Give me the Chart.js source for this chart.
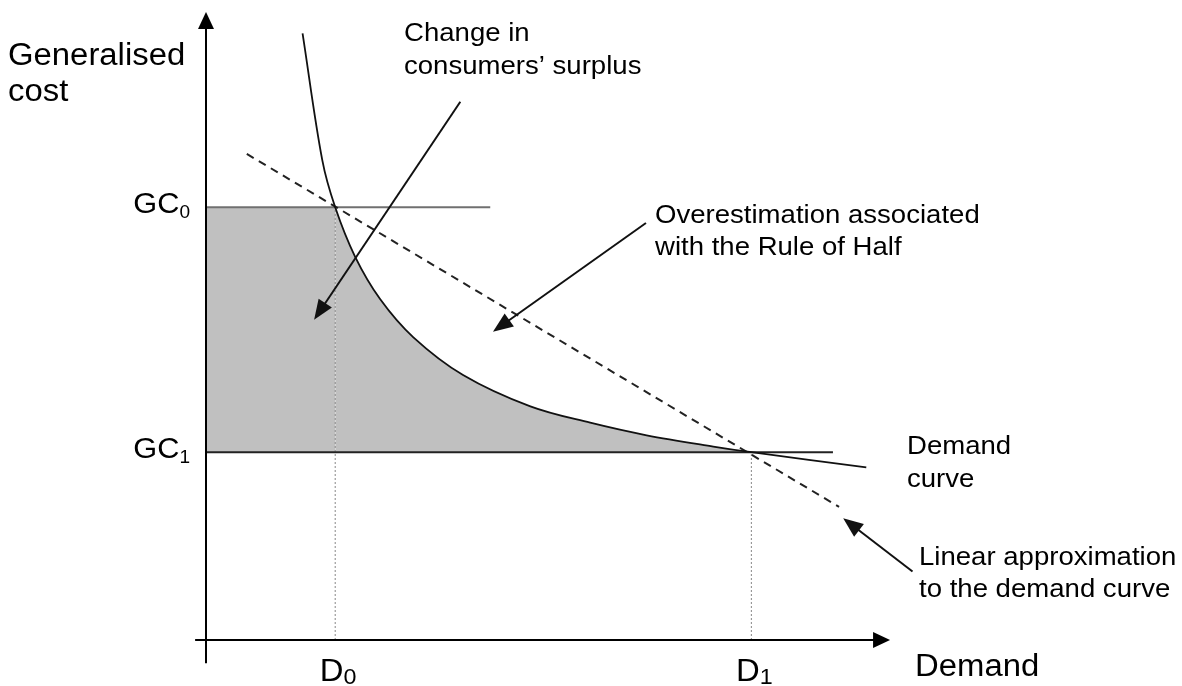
<!DOCTYPE html>
<html>
<head>
<meta charset="utf-8">
<script src="https://cdn.jsdelivr.net/npm/chart.js@4.4.1/dist/chart.umd.min.js"></script>
<style>
    html, body { margin: 0; padding: 0; background: #fff; }
    #wrap { width: 1182px; height: 686px; position: relative; }
</style>
</head>
<body>
<div id="wrap"><canvas id="diagram"></canvas></div>
<script>
// Demand curve (demand, generalised cost)
const curveX = [14.2, 17.1, 19.0, 21.9, 25.6, 30.5, 37.8, 47.7, 56.5, 64.8, 74.6, 80.2, 97.1];
const curveY = [96.6, 76.4, 68.9, 61.1, 54.3, 48.2, 42.2, 37.2, 34.6, 32.6, 30.8, 29.9, 27.5];

// Linear approximation (dashed)
const linearX = [6.0, 93.1];
const linearY = [77.4, 21.2];

// Generalised cost levels GC0, GC1 and how far their lines run
const costLevels = [68.9, 29.9];
const costSubs = ['0', '1'];
const costLineEnds = [41.8, 92.2];

// Demand levels D0, D1
const demandLevels = [19.0, 80.2];
const demandSubs = ['0', '1'];

// Annotation arrows, tail -> head
const arrowTailX = [37.4, 64.7, 103.9];
const arrowTailY = [85.7, 66.4, 10.9];
const arrowHeadX = [15.9, 42.2, 93.7];
const arrowHeadY = [51.0, 49.1, 19.4];

const FONT = '"Liberation Sans", Arial, sans-serif';
const SHADE = '#c0c0c0';
const STRETCH = 1.06; // the original lettering is a bit wide
const TENSION = 0.35;

function pts(xs, ys) {
    return xs.map((x, i) => ({ x: x, y: ys[i] }));
}

// slice of the curve between D0 and D1, used for the shaded area
const i0 = curveX.indexOf(demandLevels[0]);
const i1 = curveX.indexOf(demandLevels[1]);
const shadeX = curveX.slice(i0, i1 + 1);
const shadeY = curveY.slice(i0, i1 + 1);

function arrowHead(ctx, x1, y1, x2, y2, len, half) {
    const a = Math.atan2(y2 - y1, x2 - x1);
    ctx.beginPath();
    ctx.moveTo(x2, y2);
    ctx.lineTo(x2 - len * Math.cos(a) + half * Math.sin(a), y2 - len * Math.sin(a) - half * Math.cos(a));
    ctx.lineTo(x2 - len * Math.cos(a) - half * Math.sin(a), y2 - len * Math.sin(a) + half * Math.cos(a));
    ctx.closePath();
    ctx.fill();
}

function text(ctx, t, x, y, size) {
    ctx.save();
    ctx.font = size + 'px ' + FONT;
    ctx.translate(x, y);
    ctx.scale(STRETCH, 1);
    ctx.fillText(t, 0, 0);
    ctx.restore();
}

function width(ctx, t, size) {
    ctx.font = size + 'px ' + FONT;
    return ctx.measureText(t).width * STRETCH;
}

function subLabel(ctx, main, sub, x, y, size, subSize, subDrop, align) {
    const w1 = width(ctx, main, size);
    const w2 = width(ctx, sub, subSize);
    let left = x;
    if (align === 'right') left = x - w1 - w2;
    if (align === 'center') left = x - (w1 + w2) / 2;
    text(ctx, main, left, y, size);
    text(ctx, sub, left + w1, y + subDrop, subSize);
}

const diagramPlugin = {
    id: 'diagram',
    afterDraw(chart) {
        const ctx = chart.ctx;
        const sx = chart.scales.x, sy = chart.scales.y;
        const px = v => sx.getPixelForValue(v);
        const py = v => sy.getPixelForValue(v);

        ctx.save();
        ctx.strokeStyle = '#000';
        ctx.fillStyle = '#000';
        ctx.lineWidth = 2;

        // axes
        ctx.beginPath();
        ctx.moveTo(px(0), py(-3.7));
        ctx.lineTo(px(0), py(100) + 10);
        ctx.moveTo(px(-1.6), py(0));
        ctx.lineTo(px(100.6) - 10, py(0));
        ctx.stroke();
        arrowHead(ctx, px(0), py(50), px(0), py(100), 17, 8);
        arrowHead(ctx, px(50), py(0), px(100.6), py(0), 17, 8);

        // annotation arrows
        ctx.strokeStyle = '#111';
        ctx.fillStyle = '#111';
        for (let i = 0; i < arrowTailX.length; i++) {
            const x1 = px(arrowTailX[i]), y1 = py(arrowTailY[i]);
            const x2 = px(arrowHeadX[i]), y2 = py(arrowHeadY[i]);
            const a = Math.atan2(y2 - y1, x2 - x1);
            ctx.beginPath();
            ctx.moveTo(x1, y1);
            ctx.lineTo(x2 - 12 * Math.cos(a), y2 - 12 * Math.sin(a));
            ctx.stroke();
            arrowHead(ctx, x1, y1, x2, y2, 20, 8);
        }

        // text
        ctx.fillStyle = '#000';
        ctx.textBaseline = 'alphabetic';
        ctx.textAlign = 'left';
        text(ctx, 'Generalised', 8, 65, 31);
        text(ctx, 'cost', 8, 101, 31);
        text(ctx, 'Demand', 915, 676, 31);

        text(ctx, 'Change in', 404, 41, 26);
        text(ctx, 'consumers\u2019 surplus', 404, 74, 26);
        text(ctx, 'Overestimation associated', 655, 223, 26);
        text(ctx, 'with the Rule of Half', 655, 255, 26);
        text(ctx, 'Demand', 907, 454, 26);
        text(ctx, 'curve', 907, 487, 26);
        text(ctx, 'Linear approximation', 919, 565, 26);
        text(ctx, 'to the demand curve', 919, 597, 26);

        costLevels.forEach((v, i) => {
            subLabel(ctx, 'GC', costSubs[i], 190, py(v) + 6, 29, 18, 5, 'right');
        });
        demandLevels.forEach((v, i) => {
            subLabel(ctx, 'D', demandSubs[i], px(v) + 3, 681, 31, 22, 3, 'center');
        });
        ctx.restore();
    }
};

const line = (data, color, w, extra) => Object.assign({
    data: data,
    showLine: true,
    pointRadius: 0,
    borderColor: color,
    borderWidth: w,
    fill: false,
    order: 1
}, extra || {});

new Chart(document.getElementById('diagram'), {
    type: 'scatter',
    data: {
        datasets: [
            line(pts(curveX, curveY), '#111', 1.8, { tension: TENSION }),
            line(pts(linearX, linearY), '#222', 2, { borderDash: [8, 6] }),
            line([{ x: 0, y: costLevels[0] }, { x: costLineEnds[0], y: costLevels[0] }], '#707070', 2),
            line([{ x: 0, y: costLevels[1] }, { x: costLineEnds[1], y: costLevels[1] }], '#222', 2),
            line([{ x: demandLevels[0], y: 0 }, { x: demandLevels[0], y: costLevels[0] }], '#888', 1, { borderDash: [2, 2], order: 2 }),
            line([{ x: demandLevels[1], y: 0 }, { x: demandLevels[1], y: costLevels[1] }], '#888', 1, { borderDash: [2, 2], order: 2 }),
            line(pts(shadeX, shadeY), SHADE, 0, {
                tension: TENSION,
                fill: { value: costLevels[1] },
                backgroundColor: SHADE,
                order: 10
            }),
            line([{ x: 0, y: costLevels[0] }, { x: demandLevels[0], y: costLevels[0] }], SHADE, 0, {
                fill: { value: costLevels[1] },
                backgroundColor: SHADE,
                order: 10
            })
        ]
    },
    options: {
        responsive: true,
        maintainAspectRatio: false,
        animation: false,
        layout: { padding: { left: 206, right: 296, top: 12, bottom: 46 } },
        plugins: { legend: { display: false }, tooltip: { enabled: false } },
        scales: {
            x: { type: 'linear', min: 0, max: 100, display: false },
            y: { type: 'linear', min: 0, max: 100, display: false }
        },
        elements: { line: { clip: false } }
    },
    plugins: [diagramPlugin]
});
</script>
</body>
</html>
